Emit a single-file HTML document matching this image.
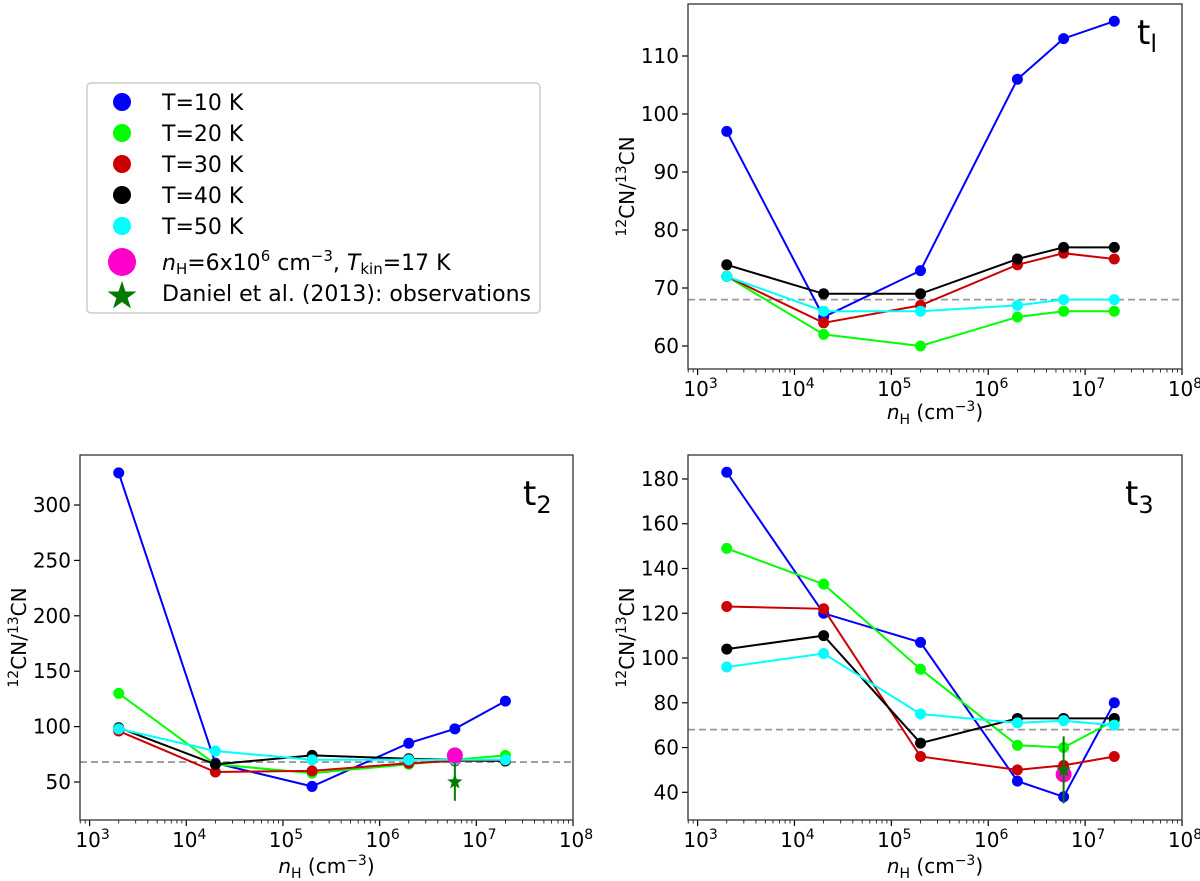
<!DOCTYPE html>
<html><head><meta charset="utf-8">
<style>
html,body{margin:0;padding:0;background:#fff;}
svg{display:block;font-family:"DejaVu Sans","Liberation Sans",sans-serif;}
</style></head>
<body>
<svg id="fig" width="1200" height="881" viewBox="0 0 1200 881" xmlns="http://www.w3.org/2000/svg">
  <g id="legend">
    <rect x="87" y="83" width="453" height="230" rx="4" fill="#fff" stroke="#cccccc" stroke-width="1.5"/>
    <g><circle cx="122" cy="102" r="9" fill="#0000ff"/><text x="162" y="110" font-size="22">T=10 K</text></g>
    <g><circle cx="122" cy="133" r="9" fill="#00ff00"/><text x="162" y="141" font-size="22">T=20 K</text></g>
    <g><circle cx="122" cy="164" r="9" fill="#cc0000"/><text x="162" y="172" font-size="22">T=30 K</text></g>
    <g><circle cx="122" cy="195" r="9" fill="#000000"/><text x="162" y="203" font-size="22">T=40 K</text></g>
    <g><circle cx="122" cy="226" r="9" fill="#00ffff"/><text x="162" y="234" font-size="22">T=50 K</text></g>
    <g><circle cx="122" cy="262" r="14" fill="#ff00cc"/><text x="162" y="270" font-size="22"><tspan font-style="italic">n</tspan><tspan font-size="15" dy="4">H</tspan><tspan dy="-4">=6x10</tspan><tspan font-size="15" dy="-9">6</tspan><tspan dy="9"> cm</tspan><tspan font-size="15" dy="-9">−3</tspan><tspan dy="9">, </tspan><tspan font-style="italic">T</tspan><tspan font-size="15" dy="4">kin</tspan><tspan dy="-4">=17 K</tspan></text></g>
    <g><polygon points="122,281 125.5,291.5 136.5,291.5 127.6,298 131,308.5 122,302 113,308.5 116.4,298 107.5,291.5 118.5,291.5" fill="#007a00"/><text x="162" y="301" font-size="22">Daniel et al. (2013): observations</text></g>
  </g>
  <g id="panels"></g>
</svg>
<script>
// shared x categories (n_H in cm^-3)
const nH = [2e3, 2e4, 2e5, 2e6, 6e6, 2e7];
const xTickLabels = ["3","4","5","6","7","8"];
const temps = ["T10","T20","T30","T40","T50"];
const colors = ["#0000ff","#00ff00","#cc0000","#000000","#00ffff"];
// t1
const t1_T10 = [97, 65, 73, 106, 113, 116];
const t1_T20 = [72, 62, 60, 65, 66, 66];
const t1_T30 = [72, 64, 67, 74, 76, 75];
const t1_T40 = [74, 69, 69, 75, 77, 77];
const t1_T50 = [72, 66, 66, 67, 68, 68];
const t1_yTicks = [60, 70, 80, 90, 100, 110];
// t2
const t2_T10 = [329, 67, 46, 85, 98, 123];
const t2_T20 = [130, 66, 58, 66, 70, 74];
const t2_T30 = [96, 59, 60, 67, 69, 69];
const t2_T40 = [99, 66, 74, 71, 70, 69];
const t2_T50 = [98, 78, 70, 70, 70, 70];
const t2_yTicks = [50, 100, 150, 200, 250, 300];
const t2_model = [6e6, 74];
const t2_obs = [6e6, 50, 17];
// t3
const t3_T10 = [183, 120, 107, 45, 38, 80];
const t3_T20 = [149, 133, 95, 61, 60, 72];
const t3_T30 = [123, 122, 56, 50, 52, 56];
const t3_T40 = [104, 110, 62, 73, 73, 73];
const t3_T50 = [96, 102, 75, 71, 72, 70];
const t3_yTicks = [40, 60, 80, 100, 120, 140, 160, 180];
const t3_model = [6e6, 48];
const t3_obs = [6e6, 50, 15];
const refLine = 68;

const NS = "http://www.w3.org/2000/svg";
const root = document.getElementById("panels");
function mk(tag, attrs, parent){const e=document.createElementNS(NS,tag);for(const k in attrs)e.setAttribute(k,attrs[k]);(parent||root).appendChild(e);return e;}

function panel(cfg){
  const g = mk("g",{});
  
  
  const L=cfg.left,R=cfg.right,T=cfg.top,B=cfg.bottom;
  const x0 = L + 9.6, dec = (R - x0)/5;
  const xs = v => x0 + (Math.log10(v)-3)*dec;
  const ys = v => cfg.yPix0 - (v - cfg.yVal0)*cfg.yScale;
  const cid = "clip-"+cfg.name;
  const cp = mk("clipPath",{id:cid},g); mk("rect",{x:L,y:T,width:R-L,height:B-T},cp);
  for(let d=3; d<=8; d++){
    const x = xs(Math.pow(10,d));
    mk("line",{x1:x,x2:x,y1:B,y2:B+6,stroke:"#000","stroke-width":1.2},g);
    const t = mk("text",{x:x+3,y:B+27,"font-size":20,"text-anchor":"middle"},g);
    
    
    t.innerHTML = '10<tspan font-size="14" dy="-8">'+xTickLabels[d-3]+'</tspan>';
    if(d<8) for(let m=2;m<=9;m++){const xm=xs(m*Math.pow(10,d));mk("line",{x1:xm,x2:xm,y1:B,y2:B+3.5,stroke:"#000","stroke-width":0.8},g);}
  }
  for(let m=8;m<=9;m++){const xm=xs(m*100); if(xm>L) mk("line",{x1:xm,x2:xm,y1:B,y2:B+3.5,stroke:"#000","stroke-width":0.8},g);}
  cfg.yTicks.forEach(v=>{
    const y=ys(v);
    mk("line",{x1:L-6,x2:L,y1:y,y2:y,stroke:"#000","stroke-width":1.2},g);
    const t=mk("text",{x:L-9,y:y+7,"font-size":20,"text-anchor":"end"},g);
    
    
    t.textContent=v;
  });
  const xl = mk("text",{x:(L+R)/2,y:B+cfg.xlOff,"font-size":20,"text-anchor":"middle"},g);
  
  
  xl.innerHTML='<tspan font-style="italic">n</tspan><tspan font-size="14" dy="5">H</tspan><tspan dy="-5"> (cm</tspan><tspan font-size="14" dy="-8">−3</tspan><tspan dy="8">)</tspan>';
  const yl = mk("text",{x:0,y:0,"font-size":20,"text-anchor":"middle",transform:"translate("+(L-54)+","+((T+B)/2)+") rotate(-90)"},g);
  
  
  yl.innerHTML='<tspan font-size="14" dy="-8">12</tspan><tspan dy="8">CN/</tspan><tspan font-size="14" dy="-8">13</tspan><tspan dy="8">CN</tspan>';
  const pl = mk("text",{x:cfg.labelX,y:T+cfg.labelOff,"font-size":34},g);
  
  
  pl.innerHTML = 't<tspan font-size="24" dy="8">'+cfg.label+'</tspan>';
  const dg = mk("g",{"clip-path":"url(#"+cid+")"},g);
  const dl = mk("line",{x1:L,x2:R,y1:ys(refLine),y2:ys(refLine),stroke:"#999","stroke-width":1.8,"stroke-dasharray":"7,4"},dg);
  
  
  cfg.series.forEach((s,i)=>{
    const sg = mk("g",{},dg);
    
    
    const pts = nH.map((x,j)=>xs(x).toFixed(1)+","+ys(s[j]).toFixed(1)).join(" ");
    mk("polyline",{points:pts,fill:"none",stroke:colors[i],"stroke-width":2},sg);
    nH.forEach((x,j)=>{
      const c=mk("circle",{cx:xs(x),cy:ys(s[j]),r:5.5,fill:colors[i]},sg);
      
      
    });
  });
  if(cfg.model){
    const c=mk("circle",{cx:xs(cfg.model[0]),cy:ys(cfg.model[1]),r:8,fill:"#ff00cc"},dg);
    
    
  }
  if(cfg.obs){
    const ox=xs(cfg.obs[0]), oy=ys(cfg.obs[1]);
    const og=mk("g",{},dg);
    
    
    mk("line",{x1:ox,x2:ox,y1:ys(cfg.obs[1]+cfg.obs[2]),y2:ys(cfg.obs[1]-cfg.obs[2]),stroke:"#007a00","stroke-width":2},og);
    const r1=8,r2=3.3,p=[];
    for(let k=0;k<10;k++){const a=-Math.PI/2+k*Math.PI/5,r=k%2?r2:r1;p.push((ox+r*Math.cos(a)).toFixed(1)+","+(oy+r*Math.sin(a)).toFixed(1));}
    mk("polygon",{points:p.join(" "),fill:"#007a00"},og);
  }
  const fr=mk("rect",{x:L,y:T,width:R-L,height:B-T,fill:"none",stroke:"#333","stroke-width":1.3},g);
  
  
}

panel({name:"panel-t1",left:688,right:1182,top:4,bottom:369,yPix0:346,yVal0:60,yScale:5.8,yTicks:t1_yTicks,
  series:[t1_T10,t1_T20,t1_T30,t1_T40,t1_T50],label:"l",labelX:1137,labelOff:40,xlOff:50});
panel({name:"panel-t2",left:80,right:573,top:455,bottom:820,yPix0:782,yVal0:50,yScale:1.108,yTicks:t2_yTicks,
  series:[t2_T10,t2_T20,t2_T30,t2_T40,t2_T50],label:"2",labelX:523,labelOff:50,xlOff:53,model:t2_model,obs:t2_obs});
panel({name:"panel-t3",left:688,right:1182,top:455,bottom:820,yPix0:792.3,yVal0:40,yScale:2.238,yTicks:t3_yTicks,
  series:[t3_T10,t3_T20,t3_T30,t3_T40,t3_T50],label:"3",labelX:1125,labelOff:50,xlOff:53,model:t3_model,obs:t3_obs});
</script>
</body></html>
